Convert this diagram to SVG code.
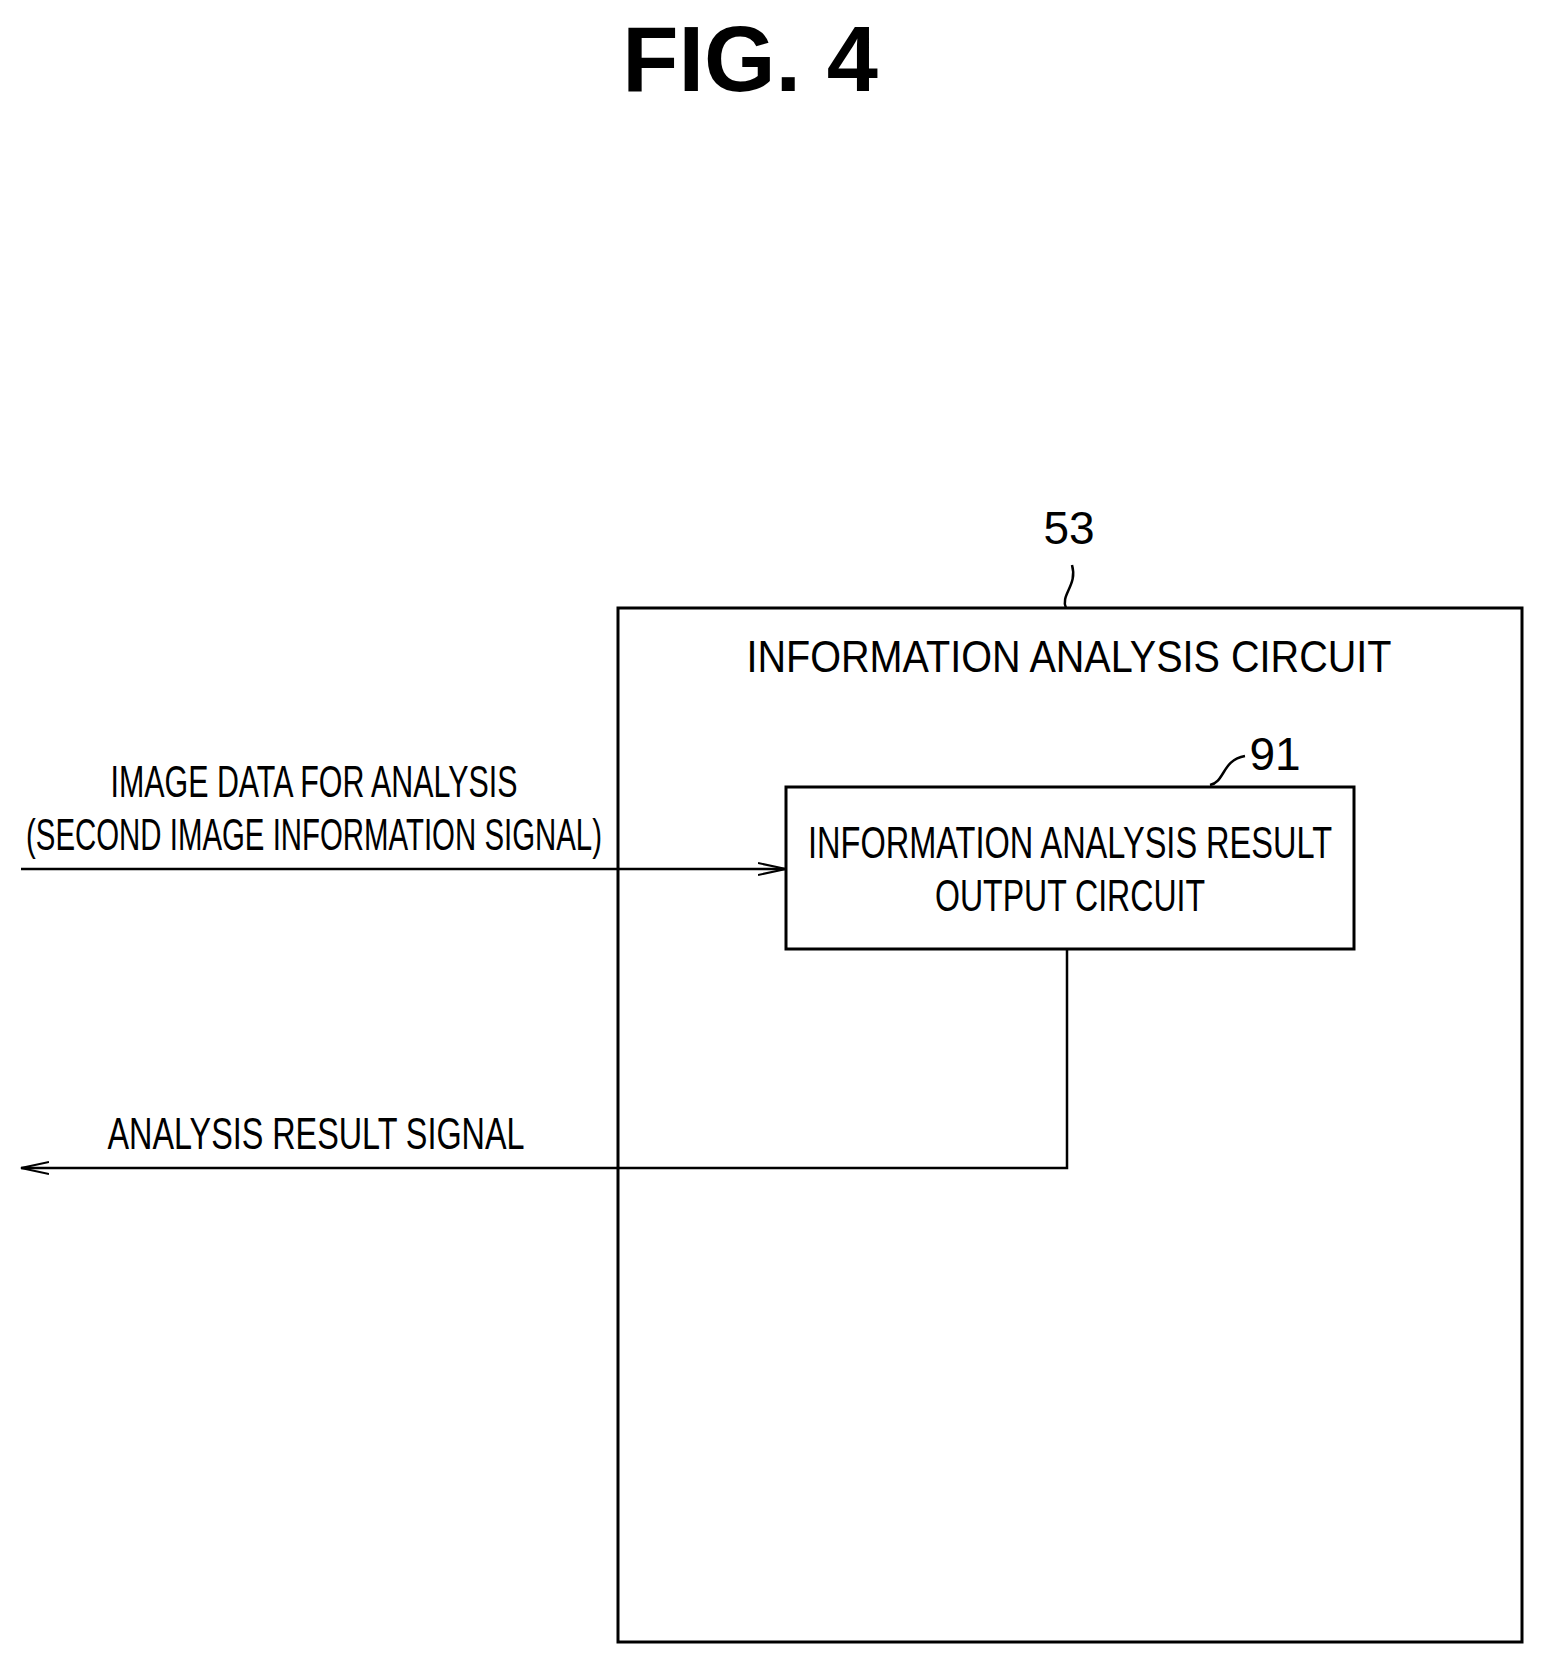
<svg xmlns="http://www.w3.org/2000/svg" width="1546" height="1672" viewBox="0 0 1546 1672">
<style>
text{font-family:"Liberation Sans",Arial,sans-serif;fill:#000;text-anchor:middle}
.l{font-size:44px}
.box{fill:none;stroke:#000;stroke-width:3}
.c{fill:none;stroke:#000;stroke-width:2.5}
</style>
<defs>
<marker id="a" markerWidth="30" markerHeight="14" refX="28" refY="7" orient="auto" markerUnits="userSpaceOnUse">
<path d="M0,1 L28,7 L0,13" fill="none" stroke="#000" stroke-width="2"/>
</marker>
</defs>
<text x="750" y="91" style="font-size:92px;font-weight:bold">FIG. 4</text>
<g id="n53">
<rect class="box" x="618" y="608" width="904" height="1034"/>
<text class="l" x="1069" y="672" textLength="645" lengthAdjust="spacingAndGlyphs">INFORMATION ANALYSIS CIRCUIT</text>
<text x="1069" y="544" style="font-size:46px">53</text>
<path class="c" d="M1066,608 C1060,595 1078,585 1072,565" stroke-width="1.5"/>
</g>
<g id="n91">
<rect class="box" x="786" y="787" width="568" height="162"/>
<text class="l" x="1070" y="858" textLength="524" lengthAdjust="spacingAndGlyphs">INFORMATION ANALYSIS RESULT</text>
<text class="l" x="1070" y="911" textLength="270" lengthAdjust="spacingAndGlyphs">OUTPUT CIRCUIT</text>
<text x="1275" y="770" style="font-size:46px">91</text>
<path class="c" d="M1210,785 C1225,782 1222,760 1245,756" stroke-width="1.5"/>
</g>
<g id="connectors">
<line class="c" x1="21" y1="869" x2="786" y2="869" marker-end="url(#a)"/>
<polyline class="c" points="1067,949 1067,1168 21,1168" marker-end="url(#a)"/>
</g>
<g id="labels">
<text class="l" x="314" y="797" textLength="407" lengthAdjust="spacingAndGlyphs">IMAGE DATA FOR ANALYSIS</text>
<text class="l" x="314" y="850" textLength="576" lengthAdjust="spacingAndGlyphs">(SECOND IMAGE INFORMATION SIGNAL)</text>
<text class="l" x="316" y="1149" textLength="417" lengthAdjust="spacingAndGlyphs">ANALYSIS RESULT SIGNAL</text>
</g>
</svg>
